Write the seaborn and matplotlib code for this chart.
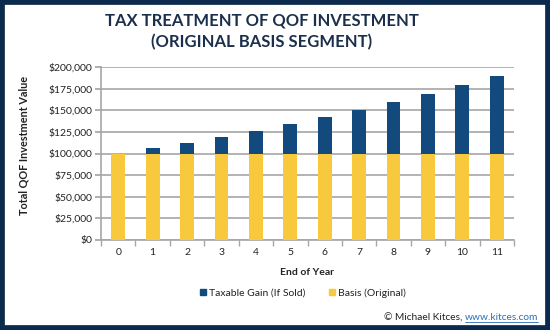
import matplotlib
matplotlib.use("Agg")
import matplotlib.pyplot as plt
import seaborn as sns
import pandas as pd
from matplotlib.patches import Rectangle, Patch
from matplotlib.ticker import FuncFormatter, FixedLocator

years = [0, 1, 2, 3, 4, 5, 6, 7, 8, 9, 10, 11]
basis = [100000] * 12
gain = [0, 6000, 12000, 19000, 26000, 34000, 42000, 50000, 59000, 69000, 79000, 90000]

NAVY = "#134a7e"
YELLOW = "#f8c93c"
DARK = "#0c2a4d"
TITLE = "#1b2f4d"

sns.set_theme(style="white")
plt.rcParams['font.family'] = ['Lato', 'DejaVu Sans']

df = pd.DataFrame({"year": [str(y) for y in years], "basis": basis,
                   "total": [b + g for b, g in zip(basis, gain)]})

fig = plt.figure(figsize=(5.5, 3.3), dpi=100)
ax = fig.add_axes([101/550, 1-240/330, 413/550, 173/330])

sns.barplot(data=df, x="year", y="total", color=NAVY, width=0.4, ax=ax,
            saturation=1, zorder=3, linewidth=0)
sns.barplot(data=df, x="year", y="basis", color=YELLOW, width=0.4, ax=ax,
            saturation=1, zorder=3, linewidth=0)

ax.set_ylim(0, 200000)
ax.set_xlim(-0.5, 11.5)
ax.yaxis.set_major_locator(FixedLocator(range(0, 200001, 25000)))
ax.yaxis.set_major_formatter(FuncFormatter(lambda v, p: f"${int(v):,}"))
ax.grid(axis="y", color="#a6a6a6", linewidth=1.2, zorder=0)
ax.set_axisbelow(True)
for s in ["top", "right"]:
    ax.spines[s].set_visible(False)
for s in ["left", "bottom"]:
    ax.spines[s].set_color("#a6a6a6")
    ax.spines[s].set_linewidth(1.2)
ax.tick_params(axis="y", length=4, color="#a6a6a6", labelsize=7.5, pad=2,
               labelcolor="#222222", left=True)
ax.tick_params(axis="x", length=0, labelsize=7.5, pad=6, labelcolor="#222222")
ax.set_xticks(range(12))
ax.set_xticks([i - 0.5 for i in range(13)], minor=True)
ax.tick_params(axis="x", which="minor", length=4, color="#a6a6a6", bottom=True)
ax.set_xlabel("End of Year", fontsize=7.5, fontweight="bold", color="#222222")
ax.xaxis.set_label_coords(0.5, -(268-240)/173)
ax.set_ylabel("Total QOF Investment Value", fontsize=7.8, fontweight="bold",
              color="#222222")
ax.yaxis.set_label_coords(-(101-30)/413, (240-145)/173)

fig.text(262/550, 1-21/330, "TAX TREATMENT OF QOF INVESTMENT", ha="center", va="center",
         fontsize=12, fontweight="bold", color=TITLE)
fig.text(262/550, 1-42/330, "(ORIGINAL BASIS SEGMENT)", ha="center", va="center",
         fontsize=12, fontweight="bold", color=TITLE)

handles = [Patch(color=NAVY, label="Taxable Gain (If Sold)"),
           Patch(color=YELLOW, label="Basis (Original)")]
fig.legend(handles=handles, loc="center", bbox_to_anchor=(303/550, 1-293/330), ncol=2,
           frameon=False, fontsize=7.5, handlelength=0.6, handleheight=0.6,
           handletextpad=0.3, columnspacing=2.2, labelcolor="#222222")

t2 = fig.text(538/550, 1-318/330, "www.kitces.com", ha="right", va="center",
              fontsize=7.3, color="#2a6fb5")
fig.canvas.draw()
bb2 = t2.get_window_extent()
t1 = fig.text(bb2.x0/550, 1-318/330, "© Michael Kitces, ", ha="right", va="center",
              fontsize=7.3, color="#222222")
fig.add_artist(plt.Line2D([bb2.x0/550, bb2.x1/550], [(bb2.y0+1)/330]*2,
                          color="#2a6fb5", linewidth=0.6))

fig.add_artist(Rectangle((0, 0), 1, 1, transform=fig.transFigure, fill=False,
                         edgecolor=DARK, linewidth=7, zorder=10))

fig.savefig("out.png", dpi=100, facecolor="white")
